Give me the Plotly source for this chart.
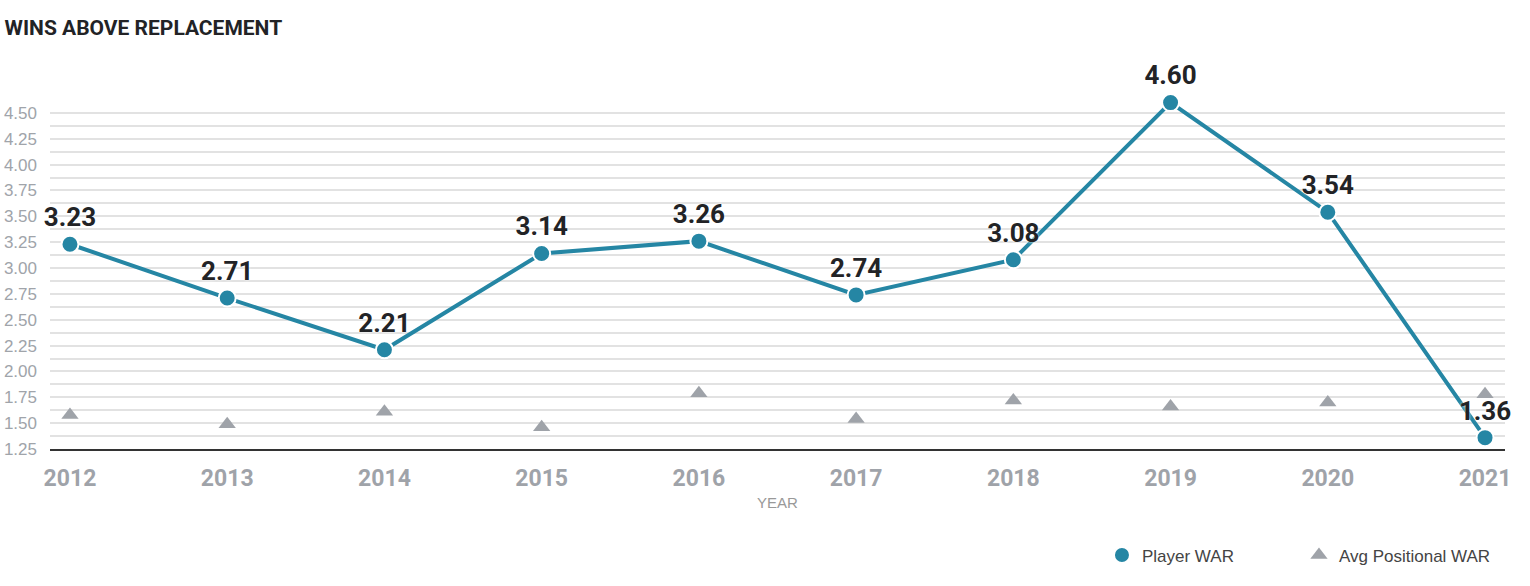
import plotly.graph_objects as go

years = [2012, 2013, 2014, 2015, 2016, 2017, 2018, 2019, 2020, 2021]
player_war = [3.23, 2.71, 2.21, 3.14, 3.26, 2.74, 3.08, 4.60, 3.54, 1.36]
avg_pos_war = [1.58, 1.49, 1.61, 1.46, 1.79, 1.54, 1.72, 1.66, 1.70, 1.78]
y_ticks = [1.25, 1.50, 1.75, 2.00, 2.25, 2.50, 2.75, 3.00, 3.25, 3.50, 3.75, 4.00, 4.25, 4.50]

COND = "Roboto, sans-serif"
SANS = "Arial, Liberation Sans, sans-serif"
BLUE = "#2586a4"
GREY = "#9fa3a9"

fig = go.Figure()
fig.add_trace(go.Scatter(
    x=years, y=avg_pos_war, mode="markers", name="Avg Positional WAR",
    marker=dict(symbol="triangle-up", size=15, color=GREY),
    hoverinfo="x+y", legend="legend2",
))
fig.add_trace(go.Scatter(
    x=years, y=player_war, mode="lines", name="Player WAR line",
    line=dict(color=BLUE, width=4), showlegend=False, hoverinfo="skip",
))
fig.add_trace(go.Scatter(
    x=years, y=player_war, mode="markers+text", name="Player WAR",
    marker=dict(size=17, color=BLUE, line=dict(color="white", width=2)),
    text=[f"{v:.2f}" for v in player_war], textposition="top center",
    textfont=dict(family=COND, size=26, color="#222326", weight="bold",
                  shadow="0px 0px 3px white"),
    cliponaxis=False, legend="legend",
))

legend_font = dict(family=SANS, size=17, color="#444")
fig.update_layout(
    width=1530, height=586,
    margin=dict(l=50, r=25, t=100, b=137, autoexpand=False),
    paper_bgcolor="white", plot_bgcolor="white",
    title=dict(text="WINS ABOVE REPLACEMENT", x=0.003, xanchor="left", y=0.953, yanchor="middle",
               font=dict(family=COND, size=21, color="#222326", weight="bold")),
    showlegend=True,
    legend=dict(orientation="h", x=0.723, xanchor="left", y=-0.305, yanchor="middle",
                font=legend_font, itemwidth=30),
    legend2=dict(orientation="h", x=0.8584, xanchor="left", y=-0.305, yanchor="middle",
                 font=legend_font, itemwidth=30),
    xaxis=dict(
        range=[2011.873, 2021.127], tickmode="array", tickvals=years,
        ticktext=[str(y) for y in years], showgrid=False, zeroline=False,
        showline=True, linecolor="#333", linewidth=2, automargin=False,
        tickfont=dict(family=COND, size=23, color=GREY, weight="bold"),
        ticks="", ticklabelstandoff=7,
        title=dict(text="YEAR", font=dict(family=SANS, size=15, color="#999"), standoff=7),
    ),
    yaxis=dict(
        range=[1.25, 4.625], tickmode="array", tickvals=y_ticks,
        ticktext=[f"{v:.2f}" for v in y_ticks], automargin=False,
        showgrid=True, gridcolor="#e2e2e2", gridwidth=1.5, zeroline=False,
        minor=dict(dtick=0.125, tick0=1.25, showgrid=True, gridcolor="#e2e2e2", gridwidth=1.5),
        tickfont=dict(family=SANS, size=17, color="#a0a4aa"),
        ticks="", ticklabelstandoff=12,
    ),
)

fig.write_html("out.html", config={"displayModeBar": False},
               post_script="document.body.style.margin='0';")
